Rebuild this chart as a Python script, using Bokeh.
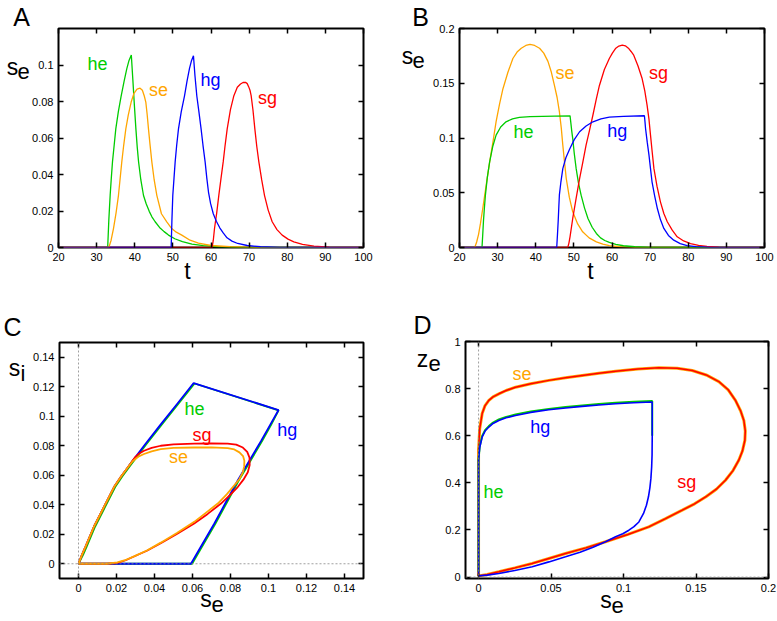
from bokeh.plotting import figure
from bokeh.models import LinearAxis, FixedTicker, Label, Span, Range1d, GridBox
from bokeh.embed import file_html
from bokeh.resources import INLINE

FONT = "Liberation Sans"
GREEN = "#00cc00"
ORANGE = "#ffa500"
BLUE = "#0000ff"
RED = "#ff0000"

# ---------------- Panel A data (t, s_e) ----------------
a_he_t = [20, 32.9, 33.2, 33.55, 33.85, 34.16, 34.6, 35.03, 35.7, 36.43, 37.2, 37.92, 38.5, 39.1, 39.5, 39.9, 40.3, 40.65, 41.0, 41.6, 42.3, 43.0, 43.8, 44.5, 45.35, 46.5, 47.7, 48.85, 50.5, 52.5, 55, 58, 62, 68, 75, 100]
a_he_s = [0, 0, 0.015, 0.0286, 0.038, 0.0469, 0.056, 0.065, 0.0745, 0.083, 0.091, 0.098, 0.1025, 0.1055, 0.092, 0.078, 0.065, 0.055, 0.047, 0.037, 0.0285, 0.024, 0.0198, 0.0168, 0.0141, 0.011, 0.0087, 0.0068, 0.0048, 0.0032, 0.0019, 0.001, 0.0004, 0.0001, 0, 0]
a_se_t = [20, 33.2, 33.8, 34.42, 35.1, 35.73, 36.15, 36.6, 37.1, 37.66, 38.3, 39.06, 39.8, 40.6, 41.4, 42.0, 42.5, 42.9, 43.25, 43.6, 44.0, 44.48, 45.1, 45.79, 47.0, 48.4, 49.7, 50.9, 52.34, 54.5, 56.7, 60, 65, 72, 80, 100]
a_se_s = [0, 0, 0.004, 0.0104, 0.019, 0.0286, 0.0375, 0.0469, 0.056, 0.065, 0.0725, 0.0797, 0.0845, 0.0868, 0.0873, 0.0862, 0.083, 0.0797, 0.073, 0.065, 0.0565, 0.0469, 0.037, 0.0286, 0.0185, 0.0141, 0.0104, 0.0084, 0.0068, 0.004, 0.0024, 0.0011, 0.0004, 0.0001, 0, 0]
a_hg_t = [20, 49.55, 49.75, 49.98, 50.3, 50.6, 51.0, 51.47, 52.2, 53.04, 53.7, 54.35, 54.9, 55.4, 55.8, 56.28, 56.85, 57.4, 57.9, 58.46, 58.9, 59.34, 59.9, 60.6, 61.4, 62.3, 63.2, 64.2, 65.5, 67, 69.5, 73, 78, 85, 100]
a_hg_s = [0, 0, 0.015, 0.0286, 0.038, 0.0469, 0.056, 0.065, 0.0745, 0.083, 0.091, 0.098, 0.1025, 0.105, 0.094, 0.083, 0.074, 0.065, 0.056, 0.0469, 0.038, 0.0304, 0.024, 0.0185, 0.0144, 0.0108, 0.008, 0.0053, 0.0035, 0.0022, 0.0011, 0.0004, 0.0001, 0, 0]
a_sg_t = [20, 60.3, 60.6, 60.92, 61.5, 62.05, 62.6, 63.2, 63.7, 64.25, 65.1, 66.0, 66.9, 67.74, 68.4, 69.05, 69.5, 69.9, 70.25, 70.53, 71.0, 71.5, 72.0, 72.55, 73.3, 74.03, 75.0, 76.05, 77.3, 78.67, 80.2, 81.73, 84, 87, 91, 96, 100]
a_sg_s = [0, 0, 0.004, 0.0104, 0.019, 0.0286, 0.0375, 0.0469, 0.056, 0.065, 0.0755, 0.0832, 0.0878, 0.0896, 0.0904, 0.0905, 0.0898, 0.088, 0.086, 0.0832, 0.0755, 0.065, 0.0555, 0.0469, 0.037, 0.0286, 0.0205, 0.0141, 0.0098, 0.0068, 0.0046, 0.0031, 0.0017, 0.0007, 0.0002, 0, 0]

# ---------------- Panel B data (t, s_e) ----------------
b_se_t = [20, 24.0, 24.5, 25.0, 25.5, 26.1, 27.0, 27.9, 28.8, 29.6, 30.5, 31.4, 32.7, 34.0, 35.1, 36.2, 37.4, 38.5, 39.7, 41.0, 42.1, 43.2, 44.1, 44.9, 45.6, 46.2, 46.7, 47.1, 47.55, 48.0, 48.8, 49.7, 51.0, 52.3, 54.0, 55.9, 57.6, 59.3, 62, 66, 72, 100]
b_se_s = [0, 0, 0.005, 0.012, 0.022, 0.0356, 0.057, 0.078, 0.097, 0.115, 0.131, 0.145, 0.16, 0.1726, 0.1785, 0.182, 0.1845, 0.1854, 0.1845, 0.182, 0.1775, 0.17, 0.16, 0.148, 0.137, 0.124, 0.109, 0.0934, 0.078, 0.063, 0.046, 0.0326, 0.0215, 0.0143, 0.0088, 0.0052, 0.003, 0.0018, 0.0008, 0.0002, 0, 0]
b_he_t = [20, 25.9, 26.1, 26.3, 26.55, 26.8, 27.3, 27.9, 28.7, 29.6, 30.8, 32.2, 33.9, 35.7, 38.5, 41.8, 45, 49.0, 49.2, 49.45, 49.7, 50.1, 50.6, 51.2, 51.9, 52.8, 53.7, 54.8, 55.9, 57.0, 58.1, 59.3, 61, 63, 66, 70, 76, 100]
b_he_s = [0, 0, 0.012, 0.025, 0.037, 0.048, 0.064, 0.078, 0.092, 0.1026, 0.11, 0.1148, 0.1175, 0.1188, 0.1195, 0.1198, 0.12, 0.1202, 0.114, 0.106, 0.0995, 0.086, 0.072, 0.059, 0.0478, 0.036, 0.0265, 0.0185, 0.0128, 0.0088, 0.0064, 0.0046, 0.0028, 0.0016, 0.0007, 0.0002, 0, 0]
b_hg_t = [20, 45.5, 45.7, 45.9, 46.05, 46.2, 46.6, 47.1, 47.9, 48.9, 50.1, 51.5, 53.2, 55.0, 57.1, 59.3, 63, 68.5, 68.65, 68.8, 69.25, 69.7, 70.1, 70.5, 71.2, 71.9, 72.7, 73.6, 74.8, 76.2, 77.9, 79.7, 82, 86, 92, 100]
b_hg_s = [0, 0, 0.012, 0.025, 0.037, 0.048, 0.06, 0.072, 0.082, 0.09, 0.0985, 0.1057, 0.111, 0.1148, 0.1175, 0.119, 0.1198, 0.1203, 0.115, 0.1087, 0.096, 0.0843, 0.072, 0.06, 0.047, 0.0356, 0.0255, 0.0174, 0.011, 0.0067, 0.0036, 0.0018, 0.0008, 0.0002, 0, 0]
b_sg_t = [20, 48.4, 48.7, 49.0, 49.7, 50.6, 51.5, 52.35, 53.2, 54.1, 55.0, 55.85, 56.7, 58.0, 59.3, 60.1, 61.0, 61.8, 62.7, 63.5, 64.3, 65.0, 65.7, 66.8, 67.9, 68.6, 69.2, 69.7, 70.1, 70.55, 71.0, 71.8, 72.7, 73.6, 74.5, 75.8, 77.1, 78.8, 80.6, 82.7, 84.9, 88, 92, 100]
b_sg_s = [0, 0, 0.004, 0.01, 0.0265, 0.045, 0.063, 0.078, 0.0934, 0.107, 0.121, 0.135, 0.148, 0.1625, 0.1726, 0.1775, 0.182, 0.184, 0.1848, 0.1842, 0.182, 0.179, 0.1756, 0.166, 0.1543, 0.143, 0.13, 0.117, 0.1026, 0.087, 0.072, 0.056, 0.0417, 0.031, 0.0235, 0.0158, 0.0098, 0.006, 0.0036, 0.002, 0.001, 0.0003, 0, 0]

# ---------------- Panel C data (s_e, s_i) ----------------
c_hg_se = [0, 0.0018, 0.0037, 0.0081, 0.0134, 0.0187, 0.0226, 0.0266, 0.035, 0.0433, 0.052, 0.0606, 0.1053, 0.1008, 0.0961, 0.09, 0.0838, 0.0777, 0.0715, 0.0653, 0.0592, 0]
c_hg_si = [0, 0.006, 0.0116, 0.0251, 0.0385, 0.052, 0.0595, 0.0665, 0.0808, 0.0945, 0.1085, 0.1225, 0.1042, 0.094, 0.0833, 0.07, 0.0565, 0.042, 0.0273, 0.0136, 0, 0]
c_he_se = [0, 0.0024, 0.0043, 0.0087, 0.014, 0.0193, 0.0232, 0.0272, 0.0356, 0.0439, 0.0526, 0.0611, 0.1053, 0.1013, 0.0967, 0.0906, 0.0844, 0.0783, 0.0721, 0.0659, 0.0598, 0]
c_he_si = [0, 0.006, 0.0116, 0.0251, 0.0385, 0.052, 0.0595, 0.0665, 0.0808, 0.0945, 0.1085, 0.1222, 0.104, 0.094, 0.0833, 0.07, 0.0565, 0.042, 0.0273, 0.0136, 0, 0]
c_sg_se = [0, 0.0018, 0.0037, 0.0081, 0.0134, 0.0187, 0.0226, 0.0266, 0.0285, 0.0301, 0.032, 0.0345, 0.0385, 0.0433, 0.05, 0.0609, 0.07, 0.0785, 0.083, 0.0865, 0.0888, 0.09, 0.0901, 0.0891, 0.0868, 0.0838, 0.0797, 0.075, 0.068, 0.0609, 0.052, 0.0433, 0.036, 0.0292, 0.0245, 0.0204, 0.015, 0]
c_sg_si = [0, 0.006, 0.0116, 0.0251, 0.0385, 0.052, 0.0595, 0.0665, 0.07, 0.0726, 0.0748, 0.0766, 0.0785, 0.08, 0.081, 0.0815, 0.0816, 0.0815, 0.0808, 0.0788, 0.0758, 0.072, 0.067, 0.062, 0.057, 0.052, 0.0465, 0.0408, 0.0338, 0.0273, 0.0203, 0.0139, 0.0088, 0.0049, 0.0022, 0.0005, 0, 0]
c_se_se = [0, 0.0018, 0.0037, 0.0081, 0.0134, 0.0187, 0.0226, 0.0266, 0.0285, 0.0301, 0.032, 0.0345, 0.0385, 0.0433, 0.05, 0.0609, 0.07, 0.0785, 0.082, 0.0847, 0.0866, 0.0873, 0.0872, 0.0865, 0.0847, 0.082, 0.078, 0.0733, 0.067, 0.0609, 0.052, 0.0433, 0.036, 0.0292, 0.0245, 0.0204, 0.015, 0]
c_se_si = [0, 0.006, 0.0116, 0.0251, 0.0385, 0.052, 0.0595, 0.0665, 0.0695, 0.0712, 0.073, 0.0744, 0.0762, 0.0777, 0.0785, 0.0788, 0.0789, 0.0784, 0.0775, 0.0755, 0.073, 0.0699, 0.066, 0.062, 0.0575, 0.0531, 0.047, 0.0408, 0.0345, 0.0284, 0.021, 0.0143, 0.009, 0.005, 0.0024, 0.001, 0, 0]

# ---------------- Panel D data (s_e, z_e) ----------------
d_hg_se = [0, 0, 0.0008, 0.0025, 0.0045, 0.0071, 0.01, 0.014, 0.019, 0.0255, 0.036, 0.0485, 0.06, 0.0715, 0.083, 0.0945, 0.107, 0.1198, 0.1198, 0.1197, 0.1194, 0.1189, 0.1182, 0.1172, 0.1158, 0.1138, 0.1106, 0.1072, 0.1037, 0.0995, 0.0945, 0.0876, 0.079, 0.07, 0.06, 0.0485, 0.037, 0.025, 0.014, 0.006, 0]
d_hg_ze = [0.005, 0.496, 0.55, 0.595, 0.62, 0.637, 0.652, 0.665, 0.676, 0.686, 0.699, 0.71, 0.718, 0.7246, 0.7305, 0.736, 0.74, 0.743, 0.6, 0.52, 0.467, 0.42, 0.38, 0.341, 0.305, 0.27, 0.234, 0.214, 0.199, 0.184, 0.171, 0.15, 0.127, 0.1055, 0.086, 0.0645, 0.0437, 0.028, 0.0155, 0.0085, 0.005]
d_he_se = [0, 0, 0.0008, 0.0025, 0.0045, 0.0071, 0.01, 0.014, 0.019, 0.0255, 0.036, 0.0485, 0.06, 0.0715, 0.083, 0.0945, 0.107, 0.1198, 0.1198]
d_he_ze = [0.02, 0.5, 0.554, 0.599, 0.624, 0.641, 0.656, 0.669, 0.68, 0.69, 0.703, 0.714, 0.722, 0.7286, 0.7345, 0.74, 0.744, 0.747, 0.6]
d_sg_se = [0, 0, 0.0008, 0.0025, 0.0045, 0.0071, 0.01, 0.014, 0.019, 0.0255, 0.036, 0.0485, 0.06, 0.0715, 0.083, 0.0945, 0.11, 0.1243, 0.137, 0.1474, 0.157, 0.1657, 0.1722, 0.1772, 0.1808, 0.183, 0.184, 0.1837, 0.182, 0.1795, 0.1755, 0.1703, 0.164, 0.1566, 0.149, 0.1405, 0.129, 0.1174, 0.103, 0.0876, 0.074, 0.06, 0.0485, 0.037, 0.025, 0.014, 0.006, 0]
d_sg_ze = [0.005, 0.54, 0.63, 0.694, 0.728, 0.75, 0.765, 0.778, 0.792, 0.806, 0.821, 0.835, 0.846, 0.856, 0.865, 0.874, 0.883, 0.8885, 0.886, 0.877, 0.858, 0.83, 0.795, 0.75, 0.705, 0.665, 0.62, 0.58, 0.535, 0.496, 0.452, 0.411, 0.373, 0.34, 0.311, 0.284, 0.248, 0.213, 0.181, 0.15, 0.124, 0.1, 0.079, 0.058, 0.039, 0.0225, 0.011, 0.005]
# the se trajectory coincides with sg in this plane
d_se_se = d_sg_se
d_se_ze = d_sg_ze

# ---------------- ticks ----------------
t_ticks = [20, 30, 40, 50, 60, 70, 80, 90, 100]
t_labels = ["20", "30", "40", "50", "60", "70", "80", "90", "100"]
a_y_ticks = [0, 0.02, 0.04, 0.06, 0.08, 0.1]
a_y_labels = ["0", "0.02", "0.04", "0.06", "0.08", "0.1"]
b_y_ticks = [0, 0.05, 0.1, 0.15, 0.2]
b_y_labels = ["0", "0.05", "0.1", "0.15", "0.2"]
c_ticks = [0, 0.02, 0.04, 0.06, 0.08, 0.1, 0.12, 0.14]
c_labels = ["0", "0.02", "0.04", "0.06", "0.08", "0.1", "0.12", "0.14"]
d_x_ticks = [0, 0.05, 0.1, 0.15, 0.2]
d_x_labels = ["0", "0.05", "0.1", "0.15", "0.2"]
d_y_ticks = [0, 0.2, 0.4, 0.6, 0.8, 1]
d_y_labels = ["0", "0.2", "0.4", "0.6", "0.8", "1"]


def no_align(p):
    if hasattr(p, "frame_align"):
        p.frame_align = False


def make_fig(w, h, bl, br, bt, bb, xr, yr, xt, xl, yt, yl):
    p = figure(width=w, height=h, x_range=Range1d(*xr), y_range=Range1d(*yr),
               output_backend="svg", toolbar_location=None,
               min_border_left=bl, min_border_right=br, min_border_top=bt, min_border_bottom=bb)
    no_align(p)
    p.grid.visible = False
    p.outline_line_color = "black"
    p.outline_line_width = 2
    p.outline_line_alpha = 1
    p.background_fill_color = "white"
    p.border_fill_color = "white"
    for ax, ticks, labels in ((p.xaxis[0], xt, xl), (p.yaxis[0], yt, yl)):
        ax.ticker = FixedTicker(ticks=ticks)
        ax.major_label_overrides = dict(zip(ticks, labels))
        ax.axis_line_color = None
        ax.major_tick_in = 5
        ax.major_tick_out = 0
        ax.major_tick_line_width = 1.5
        ax.major_tick_line_color = "black"
        ax.minor_tick_line_color = None
        ax.major_label_text_font = FONT
        ax.major_label_text_font_size = "11px"
        ax.major_label_text_color = "black"
        ax.major_label_standoff = 5
    for loc, ticks in (("above", xt), ("right", yt)):
        ax = LinearAxis(ticker=FixedTicker(ticks=ticks), major_label_text_font_size="1px",
                        major_label_text_color=None, major_label_standoff=0,
                        axis_line_color=None, major_tick_in=5, major_tick_out=0,
                        minor_tick_line_color=None, major_tick_line_color="black",
                        major_tick_line_width=1.5)
        p.add_layout(ax, loc)
    return p


def curve_label(p, x, y, s, color):
    p.add_layout(Label(x=x, y=y, text=s, text_font=FONT, text_font_size="18px",
                       text_color=color, text_align="center", text_baseline="middle"))


# ---------------- Panel A ----------------
pA = make_fig(396, 304, 58, 33, 28, 57, (20, 100), (0, 0.12), t_ticks, t_labels, a_y_ticks, a_y_labels)
pA.line(a_he_t, a_he_s, line_color=GREEN, line_width=1.3)
pA.line(a_se_t, a_se_s, line_color=ORANGE, line_width=1.3)
pA.line(a_sg_t, a_sg_s, line_color=RED, line_width=1.3)
pA.line(a_hg_t, a_hg_s, line_color=BLUE, line_width=1.3)
curve_label(pA, 30.2, 0.1005, "he", GREEN)
curve_label(pA, 46.2, 0.0863, "se", ORANGE)
curve_label(pA, 59.9, 0.0918, "hg", BLUE)
curve_label(pA, 74.8, 0.082, "sg", RED)

# ---------------- Panel B ----------------
pB = make_fig(381, 304, 63, 13, 28, 57, (20, 100), (0, 0.2), t_ticks, t_labels, b_y_ticks, b_y_labels)
pB.line(b_se_t, b_se_s, line_color=ORANGE, line_width=1.3)
pB.line(b_he_t, b_he_s, line_color=GREEN, line_width=1.3)
pB.line(b_sg_t, b_sg_s, line_color=RED, line_width=1.3)
pB.line(b_hg_t, b_hg_s, line_color=BLUE, line_width=1.3)
curve_label(pB, 47.7, 0.159, "se", ORANGE)
curve_label(pB, 72.2, 0.159, "sg", RED)
curve_label(pB, 36.8, 0.1053, "he", GREEN)
curve_label(pB, 61.4, 0.1068, "hg", BLUE)

# ---------------- Panel C ----------------
pC = make_fig(396, 317, 59, 33, 38, 43, (-0.01, 0.15), (-0.01, 0.15), c_ticks, c_labels, c_ticks, c_labels)
pC.add_layout(Span(location=0, dimension="height", line_color="#888888", line_dash="2 2", line_width=0.8))
pC.add_layout(Span(location=0, dimension="width", line_color="#888888", line_dash="2 2", line_width=0.8))
pC.line(c_he_se, c_he_si, line_color=GREEN, line_width=1.8)
pC.line(c_hg_se, c_hg_si, line_color=BLUE, line_width=1.8)
pC.line(c_sg_se, c_sg_si, line_color=RED, line_width=1.8)
pC.line(c_se_se, c_se_si, line_color=ORANGE, line_width=1.8)
curve_label(pC, 0.0611, 0.1046, "he", GREEN)
curve_label(pC, 0.065, 0.0874, "sg", RED)
curve_label(pC, 0.0527, 0.0721, "se", ORANGE)
curve_label(pC, 0.1099, 0.0905, "hg", BLUE)

# ---------------- Panel D ----------------
pD = make_fig(381, 317, 69, 9, 37, 43, (-0.009, 0.2), (-0.006, 1), d_x_ticks, d_x_labels, d_y_ticks, d_y_labels)
pD.add_layout(Span(location=0, dimension="height", line_color="#888888", line_dash="2 2", line_width=0.8))
pD.add_layout(Span(location=0, dimension="width", line_color="#888888", line_dash="2 2", line_width=0.8))
pD.line(d_se_se, d_se_ze, line_color=ORANGE, line_width=3)
pD.line(d_sg_se, d_sg_ze, line_color=RED, line_width=1.5)
pD.line(d_he_se, d_he_ze, line_color=GREEN, line_width=2)
pD.line(d_hg_se, d_hg_ze, line_color=BLUE, line_width=1.6)
curve_label(pD, 0.0299, 0.863, "se", ORANGE)
curve_label(pD, 0.0426, 0.637, "hg", BLUE)
curve_label(pD, 0.0103, 0.361, "he", GREEN)
curve_label(pD, 0.1437, 0.404, "sg", RED)

# ---------------- overlay with texts outside the frames ----------------
W, H = 777, 621
ov = figure(width=W, height=H, x_range=Range1d(0, W), y_range=Range1d(0, H),
            x_axis_type=None, y_axis_type=None, title=None,
            output_backend="svg", toolbar_location=None,
            min_border_left=0, min_border_right=0, min_border_top=0, min_border_bottom=0)
no_align(ov)
ov.grid.visible = False
ov.outline_line_color = None
ov.background_fill_alpha = 0
ov.border_fill_alpha = 0


def otxt(x, y, s, size):
    # y: vertical middle of the text, from the top of the page
    ov.add_layout(Label(x=x, y=H - y, x_units="screen", y_units="screen", text=s,
                        text_font=FONT, text_font_size=size, text_color="black",
                        text_align="center", text_baseline="middle"))


# panel A
otxt(21, 16, "A", "25px")
otxt(12, 66, "s", "23px")
otxt(23, 71, "e", "22px")
otxt(187, 270, "t", "23px")
# panel B
otxt(420, 16, "B", "25px")
otxt(407, 55, "s", "23px")
otxt(418, 60, "e", "22px")
otxt(590, 270, "t", "23px")
# panel C
otxt(12, 326, "C", "25px")
otxt(14, 367, "s", "23px")
otxt(22.5, 373, "i", "22px")
otxt(205.5, 598, "s", "23px")
otxt(217, 604, "e", "22px")
# panel D
otxt(422, 324, "D", "25px")
otxt(422, 358, "z", "23px")
otxt(434, 363, "e", "22px")
otxt(605.5, 599, "s", "23px")
otxt(617, 605, "e", "22px")

layout = GridBox(children=[(pA, 0, 0), (pB, 0, 1), (pC, 1, 0), (pD, 1, 1), (ov, 0, 0, 2, 2)])
open("out.html", "w").write(file_html(layout, INLINE))
